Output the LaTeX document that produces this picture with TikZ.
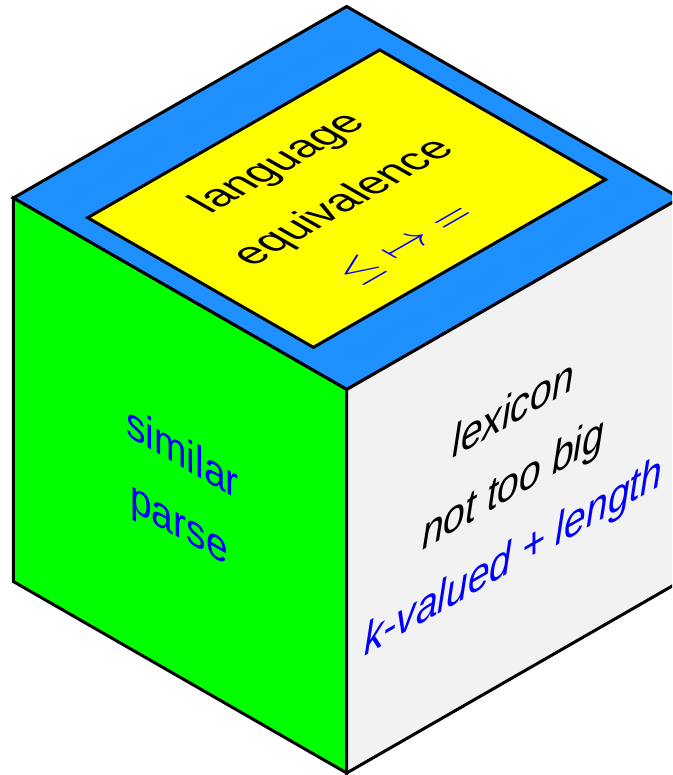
\documentclass[tikz,border=0pt]{standalone}
\usepackage{fontspec}
\setmainfont{Liberation Sans}
\definecolor{topblue}{RGB}{30,144,255}
\definecolor{leftgreen}{RGB}{0,255,0}
\definecolor{rightgray}{RGB}{242,242,242}
\definecolor{innery}{RGB}{255,255,0}
\definecolor{txtblue}{RGB}{0,0,255}
\begin{document}
\begin{tikzpicture}[x=1pt,y=1pt,
  face/.style={draw=black, line width=3pt, line join=miter},
  lbl/.style={anchor=base, inner sep=0pt, transform shape, font=\fontsize{45}{54}\selectfont},
  toplbl/.style={lbl, font=\fontsize{44}{53}\selectfont},
  itlbl/.style={lbl, font=\fontsize{45}{54}\selectfont\itshape},
  symlbl/.style={anchor=base, inner sep=0pt, transform shape, font=\fontsize{10}{12}\selectfont}]
\useasboundingbox (0,0) rectangle (672,775);
\clip (0,0) rectangle (672,775);
\coordinate (F) at (346.7,385.5);
\coordinate (L) at (13.3,577);
\coordinate (T) at (346.7,768.5);
\coordinate (R) at (680.1,577);
\coordinate (FB) at (346.7,2);
\coordinate (LB) at (13.3,193.5);
\coordinate (RB) at (680.1,193.5);
% faces
\draw[face, fill=topblue] (F) -- (L) -- (T) -- (R) -- cycle;
\draw[face, fill=leftgreen] (F) -- (L) -- (LB) -- (FB) -- cycle;
\draw[face, fill=rightgray] (F) -- (R) -- (RB) -- (FB) -- cycle;
% top face
\begin{scope}[shift={(F)}, cm={0.8671,0.4981,-0.8671,0.4981,(0,0)}]
  \draw[face, fill=innery] (23.1,61.5) rectangle (359.9,321.8);
  \node[toplbl] (lang) at (188,254) {language};
  \node[toplbl] (equiv) at (186,177) {equivalence};
  \node[symlbl, text=txtblue] (syms) at (180.5,100) {\scalebox{4.5}{$\leq\;\mapsto\;=$}};
\end{scope}
% left face
\begin{scope}[shift={(L)}, cm={0.8671,-0.4981,0,1,(0,0)}]
  \node[lbl, text=txtblue] (sim) at (195,-172.5) {similar};
  \node[lbl, text=txtblue] (parse) at (191,-244.5) {parse};
\end{scope}
% right face
\begin{scope}[shift={(F)}, cm={0.8671,0.4981,0,1,(0,0)}]
  \node[itlbl] (lex) at (192,-130) {lexicon};
  \node[itlbl] (big) at (192,-204) {not too big};
  \node[itlbl, text=txtblue] (kval) at (192,-277) {k-valued + length};
\end{scope}
\end{tikzpicture}
\end{document}
